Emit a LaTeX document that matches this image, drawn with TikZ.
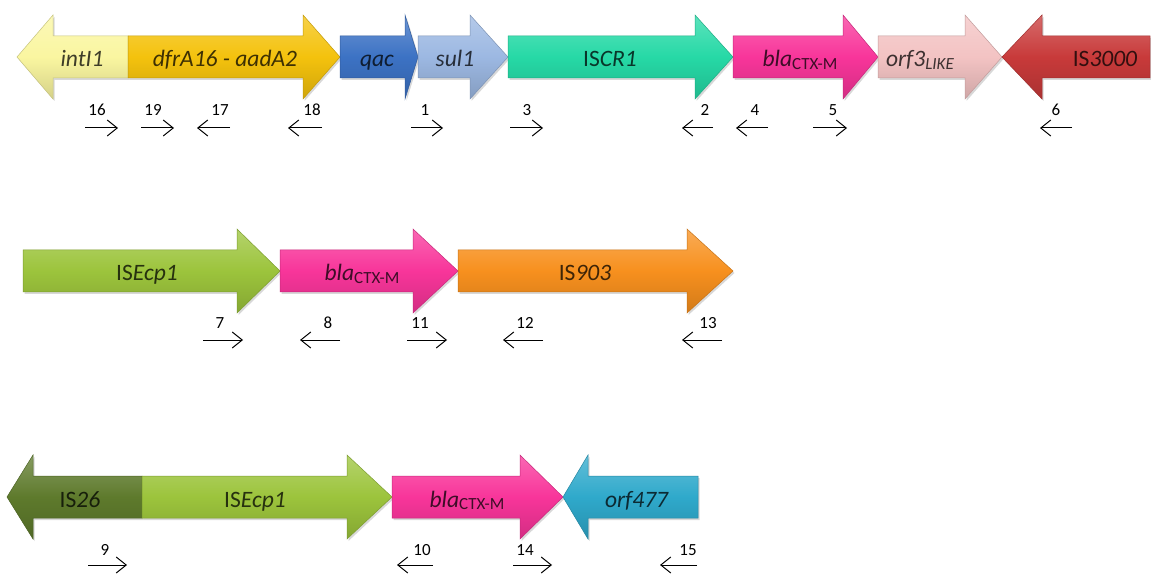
\documentclass[tikz,border=0pt]{standalone}
\usepackage{fontspec}
\setmainfont{Carlito}
\usetikzlibrary{arrows.meta,shadows}
\definecolor{intcol}{HTML}{FAF6A0}
\definecolor{dfrcol}{HTML}{F4C20D}
\definecolor{qaccol}{HTML}{3C72C4}
\definecolor{sulcol}{HTML}{9CB8E2}
\definecolor{iscrcol}{HTML}{26D9A6}
\definecolor{blacol}{HTML}{F8359A}
\definecolor{orfthreecol}{HTML}{F3C3C3}
\definecolor{isthreecol}{HTML}{C83A3A}
\definecolor{ecpcol}{HTML}{9CC43C}
\definecolor{isninecol}{HTML}{F7901E}
\definecolor{istwocol}{HTML}{5E7A2C}
\definecolor{orffourcol}{HTML}{2FA9CB}
\tikzset{
  gene/.style={draw=#1!80!black, line width=0.5pt,
    top color=#1!75!white, bottom color=#1!85!black, middle color=#1,
    drop shadow={opacity=0.3, shadow xshift=1.5pt, shadow yshift=-2pt}},
  glabel/.style={font=\fontsize{23.5}{25}\selectfont, inner sep=0pt, anchor=base},
  num/.style={font=\fontsize{17}{19}\selectfont, inner sep=0pt},
  primer/.style={line width=1pt, -{Straight Barb[length=10pt,width=16pt,line width=1pt]}},
}
\newcommand\gsub[1]{\raisebox{-0.25ex}{\fontsize{17}{18}\selectfont #1}}
% right-pointing gene: name, x0, head back, tip, y centre, colour, label x, text
\newcommand\geneR[8]{%
  \path[gene=#6] ({#2},{#5-21}) -- ({#3},{#5-21}) -- ({#3},{#5-42}) -- ({#4},{#5})
    -- ({#3},{#5+42}) -- ({#3},{#5+21}) -- ({#2},{#5+21}) -- cycle;
  \node[glabel, text=#6!25!black] (#1) at ({#7},{#5+10}) {#8};}
% left-pointing gene: name, tip, head back, right end, y centre, colour, label x, text
\newcommand\geneL[8]{%
  \path[gene=#6] ({#4},{#5-21}) -- ({#3},{#5-21}) -- ({#3},{#5-42}) -- ({#2},{#5})
    -- ({#3},{#5+42}) -- ({#3},{#5+21}) -- ({#4},{#5+21}) -- cycle;
  \node[glabel, text=#6!25!black] (#1) at ({#7},{#5+10}) {#8};}
% primers: id, label x, left x, right x, label y, arrow y
\newcommand\primerR[6]{%
  \node[num] (n#1) at ({#2},{#5}) {#1};
  \coordinate (a#1) at ({#3},{#6}); \coordinate (b#1) at ({#4},{#6});
  \draw[primer] (a#1) -- (b#1);}
\newcommand\primerL[6]{%
  \node[num] (n#1) at ({#2},{#5}) {#1};
  \coordinate (a#1) at ({#3},{#6}); \coordinate (b#1) at ({#4},{#6});
  \draw[primer] (b#1) -- (a#1);}
\begin{document}
\begin{tikzpicture}[x=1pt, y=-1pt]
\useasboundingbox[fill=white] (0,0) rectangle (1151,577);
% ---- row 1
\geneL{intI}{17}{53}{128}{57}{intcol}{82}{\textit{intI1}}
\geneR{dfr}{128}{303}{340}{57}{dfrcol}{225}{\textit{dfrA16 - aadA2}}
\geneR{qac}{340}{405}{418}{57}{qaccol}{377}{\textit{qac}}
\geneR{sul}{418}{470}{508}{57}{sulcol}{455}{\textit{sul1}}
\geneR{iscr}{508}{695}{733}{57}{iscrcol}{610}{IS\textit{CR1}}
\geneR{blaA}{733}{843}{878}{57}{blacol}{800}{\textit{bla}\gsub{CTX-M}}
\geneR{orfthree}{878}{965}{1002}{57}{orfthreecol}{920}{\textit{orf3}\gsub{\textit{LIKE}}}
\geneL{isthree}{1002}{1042}{1150}{57}{isthreecol}{1105}{IS\textit{3000}}
\primerR{16}{97}{85}{118}{110}{128}
\primerR{19}{153}{141}{174}{110}{128}
\primerL{17}{220}{197}{230}{110}{128}
\primerL{18}{312}{288}{322}{110}{128}
\primerR{1}{425}{411}{443}{110}{128}
\primerR{3}{527}{510}{543}{110}{128}
\primerL{2}{705}{682}{713}{110}{128}
\primerL{4}{755}{736}{768}{110}{128}
\primerR{5}{833}{813}{847}{110}{128}
\primerL{6}{1056}{1040}{1072}{110}{128}
% ---- row 2
\geneR{ecpA}{23}{237}{280}{271}{ecpcol}{147}{IS\textit{Ecp1}}
\geneR{blaB}{280}{413}{458}{271}{blacol}{362}{\textit{bla}\gsub{CTX-M}}
\geneR{isnine}{458}{687}{733}{271}{isninecol}{585}{IS\textit{903}}
\primerR{7}{220}{203}{243}{323}{340}
\primerL{8}{328}{300}{340}{323}{340}
\primerR{11}{420}{407}{447}{323}{340}
\primerL{12}{525}{503}{543}{323}{340}
\primerL{13}{708}{682}{722}{323}{340}
% ---- row 3
\geneL{istwo}{7}{33}{142}{497}{istwocol}{80}{IS\textit{26}}
\geneR{ecpB}{142}{347}{392}{497}{ecpcol}{255}{IS\textit{Ecp1}}
\geneR{blaC}{392}{520}{563}{497}{blacol}{467}{\textit{bla}\gsub{CTX-M}}
\geneL{orffour}{563}{588}{698}{497}{orffourcol}{637}{\textit{orf477}}
\primerR{9}{105}{88}{127}{550}{565}
\primerL{10}{422}{397}{433}{550}{565}
\primerR{14}{525}{513}{552}{550}{565}
\primerL{15}{688}{660}{697}{550}{565}
\end{tikzpicture}
\end{document}
